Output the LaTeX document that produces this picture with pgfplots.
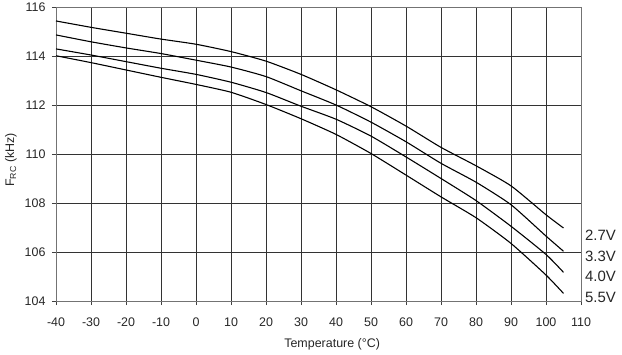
\documentclass[border=0pt]{standalone}
\usepackage{fontspec}
\setmainfont{Liberation Sans}
\newfontfamily\labfont{Liberation Sans}
\usepackage{pgfplots}
\usepackage{pgfplotstable}
\pgfplotsset{compat=1.18}

\pgfplotstableread{
x y
-40 115.43
-30 115.17
-20 114.93
-10 114.69
0 114.48
10 114.18
20 113.79
30 113.25
40 112.62
50 111.93
60 111.14
70 110.27
80 109.52
90 108.70
100 107.52
105 106.98
}\vA
\pgfplotstableread{
x y
-40 114.86
-30 114.58
-20 114.33
-10 114.10
0 113.83
10 113.55
20 113.16
30 112.58
40 112.00
50 111.30
60 110.50
70 109.62
80 108.85
90 107.93
100 106.65
105 106.03
}\vB
\pgfplotstableread{
x y
-40 114.29
-30 114.04
-20 113.77
-10 113.50
0 113.25
10 112.93
20 112.51
30 111.95
40 111.42
50 110.73
60 109.88
70 109.00
80 108.10
90 107.05
100 105.90
105 105.17
}\vC
\pgfplotstableread{
x y
-40 114.01
-30 113.73
-20 113.43
-10 113.13
0 112.84
10 112.52
20 112.02
30 111.44
40 110.80
50 110.02
60 109.14
70 108.25
80 107.40
90 106.35
100 105.06
105 104.31
}\vD

\begin{document}
\begin{tikzpicture}
\begin{axis}[
  name=ax,
  scale only axis,
  width=525bp, height=294bp,
  xmin=-40, xmax=110, ymin=104, ymax=116,
  xtick={-40,-30,...,110},
  ytick={104,106,...,116},
  xtick pos=bottom, ytick pos=left,
  tick align=outside,
  major tick length=4bp,
  tick style={black!75, line width=0.8pt},
  grid=major,
  major grid style={black!80, line width=0.9pt},
  axis line style={black!55, line width=0.9pt},
  ticklabel style={font=\labfont\fontsize{12.5}{14}\selectfont, text=black!85},
  xticklabel style={yshift=-9bp},
  yticklabel style={xshift=-3bp},
  /pgf/number format/assume math mode=true,
  xlabel={Temperature (°C)},
  ylabel={F\textsubscript{RC} (kHz)},
  label style={font=\labfont\fontsize{12.5}{14}\selectfont, text=black!85},
  xlabel style={at={(axis description cs:0.526,-0.148)}, anchor=center},
  ylabel style={at={(axis description cs:-0.086,0.48)}, anchor=center},
  clip=false,
]
\addplot[black, line width=1.1pt, smooth, tension=0.35] table {\vA};
\addplot[black, line width=1.1pt, smooth, tension=0.35] table {\vB};
\addplot[black, line width=1.1pt, smooth, tension=0.35] table {\vC};
\addplot[black, line width=1.1pt, smooth, tension=0.35] table {\vD};
\node[anchor=west, inner sep=0pt, font=\labfont\fontsize{15}{17}\selectfont, text=black!85] at (axis cs:111.1,106.69) {2.7V};
\node[anchor=west, inner sep=0pt, font=\labfont\fontsize{15}{17}\selectfont, text=black!85] at (axis cs:111.1,105.81) {3.3V};
\node[anchor=west, inner sep=0pt, font=\labfont\fontsize{15}{17}\selectfont, text=black!85] at (axis cs:111.1,104.99) {4.0V};
\node[anchor=west, inner sep=0pt, font=\labfont\fontsize{15}{17}\selectfont, text=black!85] at (axis cs:111.1,104.15) {5.5V};
\end{axis}
\pgfresetboundingbox
\path[use as bounding box] ([xshift=-56bp,yshift=-54bp]ax.south west) rectangle ([xshift=41bp,yshift=7bp]ax.north east);
\end{tikzpicture}
\end{document}
